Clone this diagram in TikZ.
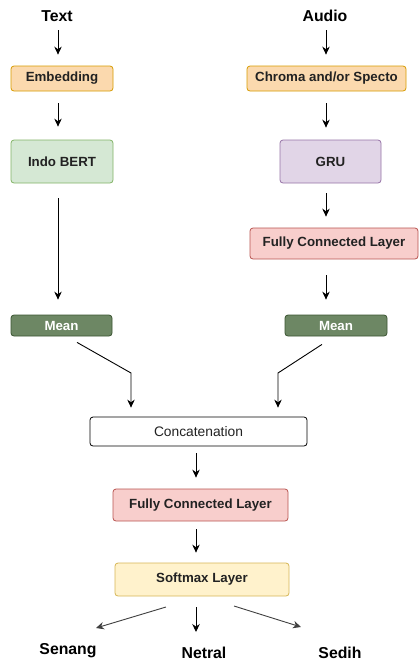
\documentclass[tikz,border=0pt]{standalone}
\usepackage{fontspec}
\setmainfont{Liberation Sans}
\usetikzlibrary{arrows.meta}

\definecolor{orangeF}{HTML}{FBD9AE}
\definecolor{orangeD}{HTML}{D79B00}
\definecolor{greenF}{HTML}{D5E8D4}
\definecolor{greenD}{HTML}{82B366}
\definecolor{purpleF}{HTML}{E1D5E7}
\definecolor{purpleD}{HTML}{9673A6}
\definecolor{redF}{HTML}{F8CECC}
\definecolor{redD}{HTML}{B85450}
\definecolor{yellowF}{HTML}{FFF2CC}
\definecolor{yellowD}{HTML}{D6B656}
\definecolor{meanF}{HTML}{6D8764}
\definecolor{meanD}{HTML}{3A5431}
\definecolor{ink}{HTML}{222222}

\tikzset{
  box/.style={draw, rounded corners=3pt, line width=0.8pt, inner sep=0pt,
    font=\fontsize{13.3}{15}\selectfont\bfseries, text=ink},
  orangebox/.style={box, fill=orangeF, draw=orangeD},
  greenbox/.style={box, fill=greenF, draw=greenD},
  purplebox/.style={box, fill=purpleF, draw=purpleD},
  redbox/.style={box, fill=redF, draw=redD},
  yellowbox/.style={box, fill=yellowF, draw=yellowD},
  meanbox/.style={box, fill=meanF, draw=meanD, text=white},
  plainbox/.style={box, fill=white, draw=black, font=\fontsize{13.8}{15}\selectfont},
  title/.style={font=\fontsize{15.8}{18}\selectfont\bfseries, text=black, inner sep=0pt},
  flow/.style={-{Stealth[length=8pt,width=7.5pt]}, line width=0.9pt, black},
  flowgray/.style={-{Stealth[length=8pt,width=7.5pt]}, line width=0.9pt, black!75}
}

\begin{document}
\begin{tikzpicture}[x=1pt, y=-1pt]
\useasboundingbox (0,0) rectangle (420,662);

% inputs
\node[title] (text) at (57,16) {Text};
\node[title] (audio) at (325,16) {Audio};

% text branch
\node[orangebox, minimum width=102pt, minimum height=25pt] (emb) at (62,78.5) {Embedding};
\node[greenbox, minimum width=102pt, minimum height=43pt] (bert) at (62,161.5) {Indo BERT};
\node[meanbox, minimum width=101pt, minimum height=21pt] (meanL) at (61.5,325.5) {Mean};

% audio branch
\node[orangebox, minimum width=159pt, minimum height=25pt] (chroma) at (326.5,78.5) {Chroma and/or Specto};
\node[purplebox, minimum width=101pt, minimum height=43pt] (gru) at (330.5,161.5) {GRU};
\node[redbox, minimum width=168pt, minimum height=31pt] (fcA) at (334,243.5) {Fully Connected Layer};
\node[meanbox, minimum width=102pt, minimum height=21pt] (meanR) at (336,325.5) {Mean};

% fusion
\node[plainbox, minimum width=217pt, minimum height=29pt] (concat) at (198.5,431.5) {Concatenation};
\node[redbox, minimum width=175pt, minimum height=32pt] (fc) at (200.5,505) {Fully Connected Layer};
\node[yellowbox, minimum width=174pt, minimum height=33pt] (soft) at (202,579.5) {Softmax Layer};

% outputs
\node[title] (senang) at (68,651) {Senang};
\node[title] (netral) at (204,653) {Netral};
\node[title] (sedih) at (340,653) {Sedih};

% arrow columns and bend points
\coordinate (colL) at (58,0);
\coordinate (colR) at (326,0);
\coordinate (colM) at (196,0);
\coordinate (kL) at (131,373);
\coordinate (kR) at (278,373);

% text branch flow
\draw[flow] ([xshift=1pt,yshift=-14pt]text.center) -- ([yshift=11pt]emb.north -| colL);
\draw[flow, shorten <=12pt, shorten >=13pt] (emb.south -| colL) -- (bert.north -| colL);
\draw[flow, shorten <=15pt, shorten >=15pt] (bert.south -| colL) -- (meanL.north -| colL);

% audio branch flow
\draw[flow] ([xshift=1pt,yshift=-14pt]audio.center) -- ([yshift=11pt]chroma.north -| colR);
\draw[flow, shorten <=12pt, shorten >=12pt] (chroma.south -| colR) -- (gru.north -| colR);
\draw[flow, shorten <=10pt, shorten >=11pt] (gru.south -| colR) -- (fcA.north -| colR);
\draw[flow, shorten <=16pt, shorten >=15pt] (fcA.south -| colR) -- (meanR.north -| colR);

% merge into concatenation
\draw[flow, shorten >=9pt] ([xshift=15.5pt,yshift=-6pt]meanL.south) -- (kL) -- (kL |- concat.north);
\draw[flow, shorten >=9pt] ([xshift=-14pt,yshift=-8pt]meanR.south) -- (kR) -- (kR |- concat.north);

% fusion chain
\draw[flow, shorten <=7pt, shorten >=11pt] (concat.south -| colM) -- (fc.north -| colM);
\draw[flow, shorten <=8pt, shorten >=10pt] (fc.south -| colM) -- (soft.north -| colM);

% class outputs
\draw[flowgray] ([xshift=-36pt,yshift=-27.5pt]soft.center) -- ([xshift=28pt,yshift=23pt]senang.center);
\draw[flow] ([xshift=-6pt,yshift=-27.5pt]soft.center) -- ([xshift=-8pt,yshift=21pt]netral.center);
\draw[flowgray] ([xshift=32pt,yshift=-26.5pt]soft.center) -- ([xshift=-39pt,yshift=26pt]sedih.center);
\end{tikzpicture}
\end{document}
